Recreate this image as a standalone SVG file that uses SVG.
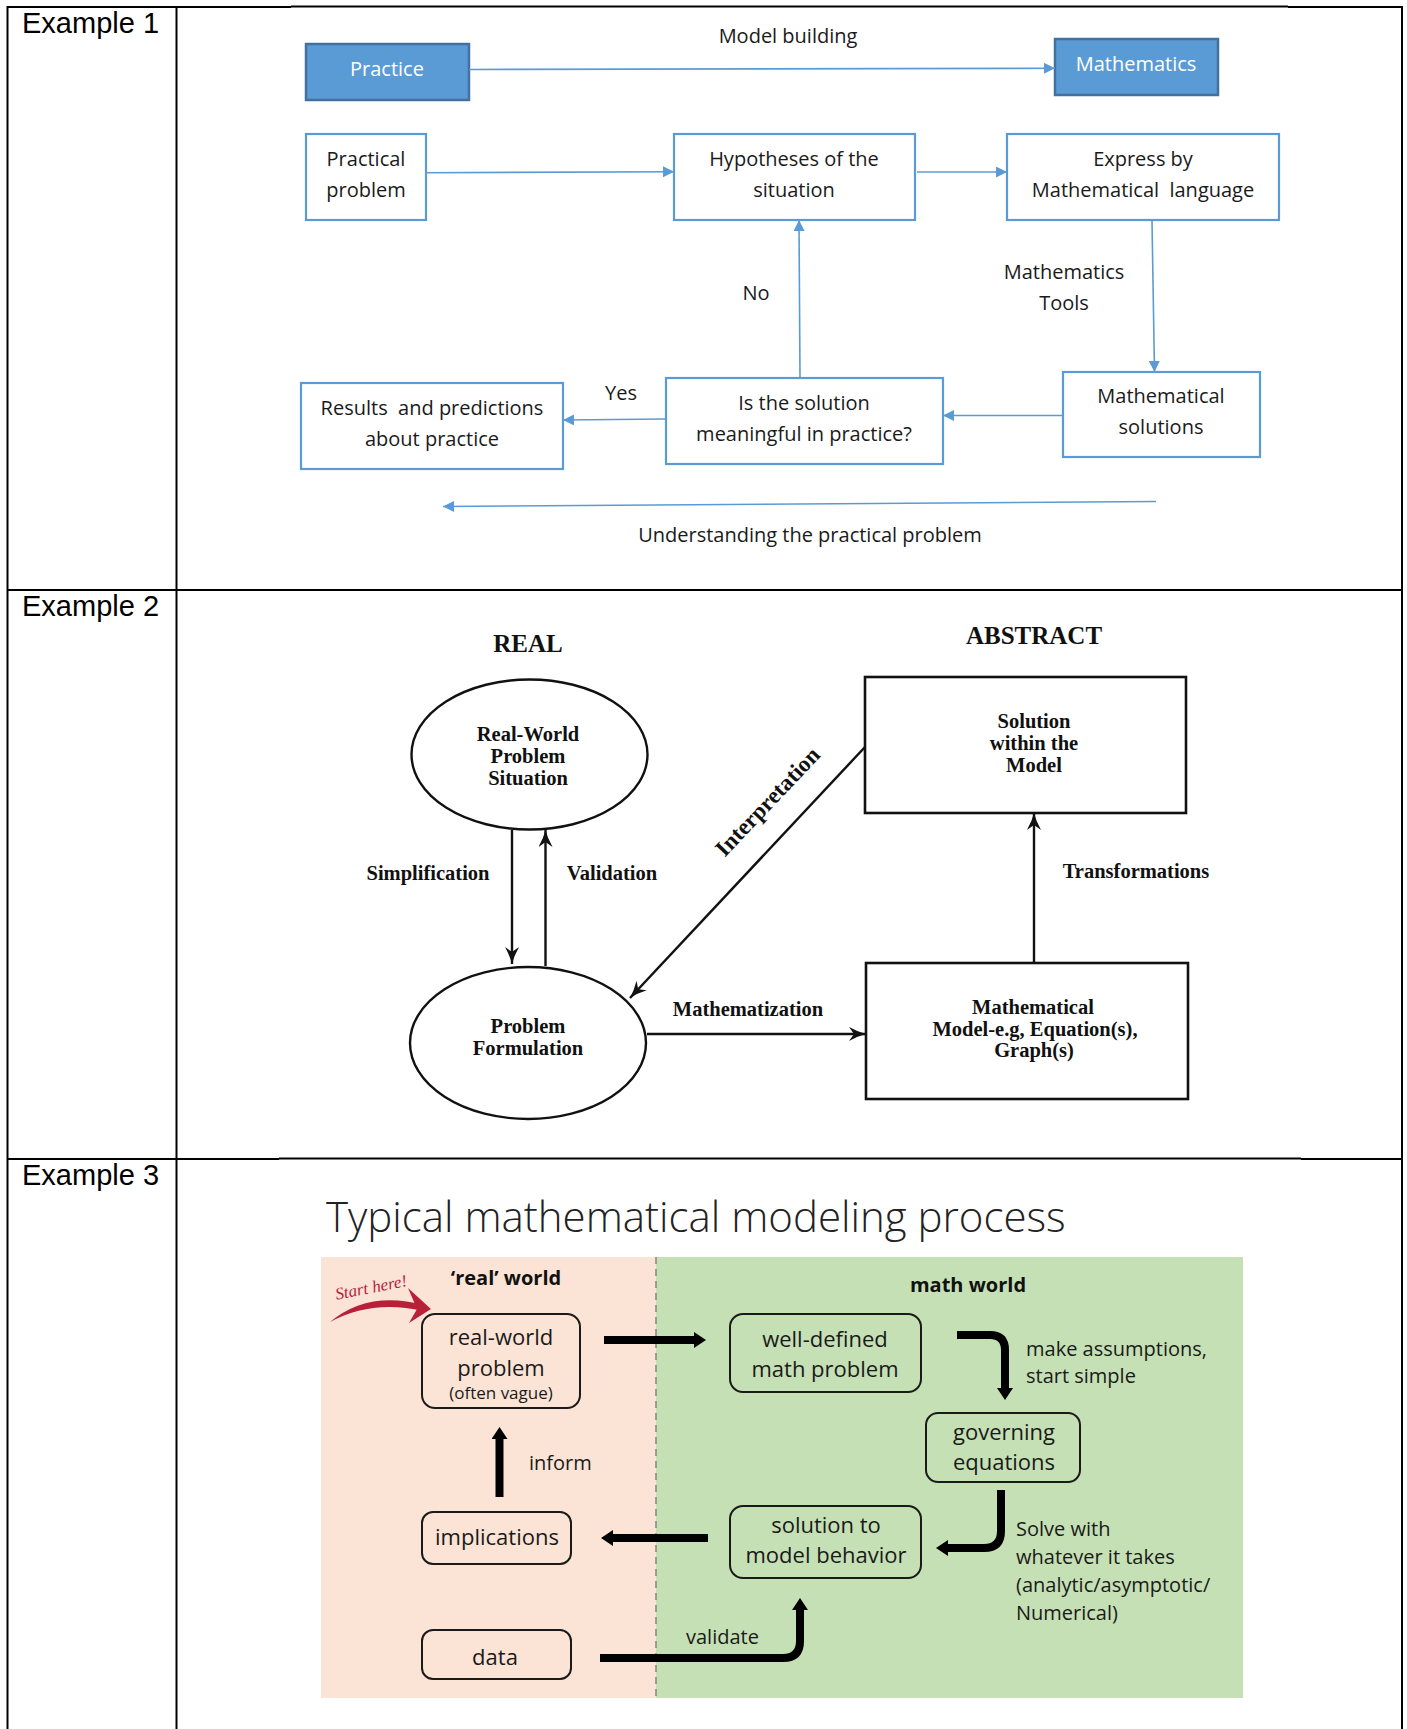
<svg xmlns="http://www.w3.org/2000/svg" width="1407" height="1729" viewBox="0 0 1407 1729">
<defs>
<style>
.tbl{stroke:#000;stroke-width:2;fill:none}
.lbl{font-family:"Liberation Sans",Arial,sans-serif;font-size:29px;fill:#000}
.e1{font-family:"Open Sans","Noto Sans",sans-serif;font-size:20px;fill:#1a1a1a;text-anchor:middle}
.e1w{font-family:"Open Sans","Noto Sans",sans-serif;font-size:20px;fill:#fff;text-anchor:middle}
.b1{fill:#fff;stroke:#5b9bd5;stroke-width:2.2}
.b1f{fill:#5b9bd5;stroke:#41719c;stroke-width:2.5}
.c1{stroke:#5b9bd5;stroke-width:1.6;fill:none;marker-end:url(#ab)}
.e2{font-family:"Liberation Serif","Times New Roman",serif;font-size:20.5px;font-weight:bold;fill:#111;text-anchor:middle}
.big{font-size:25px}
.rot{font-size:23px}
.b2{fill:#fff;stroke:#111;stroke-width:2.6}
.c2{stroke:#111;stroke-width:2.4;fill:none;marker-end:url(#ak)}
.e3{font-family:"Open Sans","Noto Sans",sans-serif;font-size:22px;fill:#1a1a1a;text-anchor:middle}
.sm{font-size:17px}
.e3s{font-family:"Open Sans","Noto Sans",sans-serif;font-size:20px;fill:#1a1a1a}
.e3b{font-family:"Open Sans","Noto Sans",sans-serif;font-size:20px;font-weight:bold;fill:#111;text-anchor:middle}
.b3{fill:none;stroke:#1a1a1a;stroke-width:2}
.c3{stroke:#000;stroke-width:8;fill:none;marker-end:url(#at)}
</style>
<marker id="ab" viewBox="0 0 11 11" markerWidth="11" markerHeight="11" refX="11" refY="5.5" orient="auto" markerUnits="userSpaceOnUse"><path d="M0,0 L11,5.5 L0,11 z" fill="#5b9bd5"/></marker>
<marker id="ak" viewBox="0 0 17 14" markerWidth="17" markerHeight="14" refX="17" refY="7" orient="auto" markerUnits="userSpaceOnUse"><path d="M0,0 Q9,5 17,7 Q9,9 0,14 L5,7 z" fill="#111"/></marker>
<marker id="at" viewBox="0 0 12 16" markerWidth="12" markerHeight="16" refX="1" refY="8" orient="auto" markerUnits="userSpaceOnUse"><path d="M0,0 L12,8 L0,16 z" fill="#000"/></marker>
</defs>
<rect x="0" y="0" width="1407" height="1729" fill="#fff"/>

<g id="table">
<line class="tbl" x1="7" y1="7" x2="291" y2="7" stroke-width="2.4"/>
<line class="tbl" x1="291" y1="6.5" x2="1288" y2="6.5" stroke-width="1.3"/>
<line class="tbl" x1="1288" y1="7" x2="1403" y2="7" stroke-width="2.4"/>
<line class="tbl" x1="7" y1="590" x2="1403" y2="590" stroke-width="2.6"/>
<line class="tbl" x1="7" y1="1159" x2="279" y2="1159" stroke-width="2.4"/>
<line class="tbl" x1="279" y1="1158.5" x2="1301" y2="1158.5" stroke-width="1.3"/>
<line class="tbl" x1="1301" y1="1159" x2="1403" y2="1159" stroke-width="2.4"/>
<line class="tbl" x1="7.5" y1="6" x2="7.5" y2="1729"/>
<line class="tbl" x1="176.5" y1="6" x2="176.5" y2="1729"/>
<line class="tbl" x1="1402" y1="6" x2="1402" y2="1729"/>
<text class="lbl" x="22" y="33">Example 1</text>
<text class="lbl" x="22" y="616">Example 2</text>
<text class="lbl" x="22" y="1185">Example 3</text>
</g>

<!-- Example 1 -->
<g id="ex1-practice"><rect class="b1f" x="306" y="44" width="163" height="56"/><text class="e1w" x="387" y="76">Practice</text></g>
<g id="ex1-mathematics"><rect class="b1f" x="1055" y="39" width="163" height="56"/><text class="e1w" x="1136" y="71">Mathematics</text></g>
<g id="ex1-practical"><rect class="b1" x="306" y="134" width="120" height="86"/><text class="e1" x="366" y="166">Practical</text><text class="e1" x="366" y="197">problem</text></g>
<g id="ex1-hypotheses"><rect class="b1" x="674" y="134" width="241" height="86"/><text class="e1" x="794" y="166">Hypotheses of the</text><text class="e1" x="794" y="197">situation</text></g>
<g id="ex1-express"><rect class="b1" x="1007" y="134" width="272" height="86"/><text class="e1" x="1143" y="166">Express by</text><text class="e1" x="1143" y="197" xml:space="preserve">Mathematical  language</text></g>
<g id="ex1-results"><rect class="b1" x="301" y="383" width="262" height="86"/><text class="e1" x="432" y="415" xml:space="preserve">Results  and predictions</text><text class="e1" x="432" y="446">about practice</text></g>
<g id="ex1-meaningful"><rect class="b1" x="666" y="378" width="277" height="86"/><text class="e1" x="804" y="410">Is the solution</text><text class="e1" x="804" y="441">meaningful in practice?</text></g>
<g id="ex1-solutions"><rect class="b1" x="1063" y="372" width="197" height="85"/><text class="e1" x="1161" y="403">Mathematical</text><text class="e1" x="1161" y="434">solutions</text></g>

<!-- Example 2 -->
<g id="ex2-realworld"><ellipse cx="529.5" cy="754.5" rx="118" ry="75" fill="#fff" stroke="#111" stroke-width="2.4"/><text class="e2" x="528" y="741">Real-World</text><text class="e2" x="528" y="763">Problem</text><text class="e2" x="528" y="785">Situation</text></g>
<g id="ex2-formulation"><ellipse cx="528" cy="1043" rx="118" ry="76" fill="#fff" stroke="#111" stroke-width="2.4"/><text class="e2" x="528" y="1033">Problem</text><text class="e2" x="528" y="1055">Formulation</text></g>
<g id="ex2-solution"><rect class="b2" x="865" y="677" width="321" height="136"/><text class="e2" x="1034" y="728">Solution</text><text class="e2" x="1034" y="750">within the</text><text class="e2" x="1034" y="772">Model</text></g>
<g id="ex2-model"><rect class="b2" x="866" y="963" width="322" height="136"/><text class="e2" x="1033" y="1014">Mathematical</text><text class="e2" x="1035" y="1036">Model-e.g, Equation(s),</text><text class="e2" x="1034" y="1057">Graph(s)</text></g>
<g id="ex2-labels">
<text class="e2 big" x="528" y="652">REAL</text>
<text class="e2 big" x="1034" y="644">ABSTRACT</text>
</g>

<!-- Example 3 -->
<g id="ex3-panels">
<rect x="321" y="1257" width="335" height="441" fill="#fbe4d6"/>
<rect x="656" y="1257" width="587" height="441" fill="#c5e0b4"/>
<line x1="656" y1="1257" x2="656" y2="1698" stroke="#8a8a8a" stroke-width="1.6" stroke-dasharray="7,5"/>
<text x="326" y="1232" font-family="'Open Sans','Noto Sans',sans-serif" font-size="42" font-weight="300" fill="#222">Typical mathematical modeling process</text>
<text class="e3b" x="506" y="1285">‘real’ world</text>
<text class="e3b" x="968" y="1292">math world</text>
<text x="371" y="1293" font-family="'Liberation Serif',serif" font-style="italic" font-size="17" fill="#b8203a" text-anchor="middle" transform="rotate(-11 371 1287)">Start here!</text>
<path d="M330,1322 Q368,1290 424,1305 L423,1311 Q372,1299 330,1322 z" fill="#b8203a"/>
<path d="M408,1288 L431,1309 L409,1323 L417,1309 z" fill="#b8203a"/>
</g>
<g id="ex3-realworld"><rect class="b3" x="422" y="1314" width="158" height="94" rx="13"/><text class="e3" x="501" y="1345">real-world</text><text class="e3" x="501" y="1376">problem</text><text class="e3 sm" x="501" y="1399">(often vague)</text></g>
<g id="ex3-welldefined"><rect class="b3" x="730" y="1314" width="191" height="78" rx="13"/><text class="e3" x="825" y="1347">well-defined</text><text class="e3" x="825" y="1377">math problem</text></g>
<g id="ex3-governing"><rect class="b3" x="926" y="1413" width="154" height="69" rx="12"/><text class="e3" x="1004" y="1440">governing</text><text class="e3" x="1004" y="1470">equations</text></g>
<g id="ex3-solution"><rect class="b3" x="730" y="1506" width="191" height="72" rx="13"/><text class="e3" x="826" y="1533">solution to</text><text class="e3" x="826" y="1563">model behavior</text></g>
<g id="ex3-implications"><rect class="b3" x="422" y="1512" width="149" height="52" rx="11"/><text class="e3" x="497" y="1545">implications</text></g>
<g id="ex3-data"><rect class="b3" x="422" y="1630" width="149" height="49" rx="11"/><text class="e3" x="495" y="1665">data</text></g>

<g id="connectors">
<line class="c1" x1="469" y1="69.5" x2="1055" y2="68.3"/>
<line class="c1" x1="427" y1="172.7" x2="674" y2="171.7"/>
<line class="c1" x1="917" y1="172" x2="1007" y2="172"/>
<line class="c1" x1="1152" y1="221" x2="1154.5" y2="372"/>
<line class="c1" x1="1063" y1="415.5" x2="943" y2="415.5"/>
<line class="c1" x1="666" y1="419" x2="563" y2="420"/>
<line class="c1" x1="800" y1="378" x2="799" y2="220"/>
<line class="c1" x1="1156" y1="501.5" x2="443" y2="506.5"/>
<text class="e1" x="788" y="43">Model building</text>
<text class="e1" x="1064" y="279">Mathematics</text>
<text class="e1" x="1064" y="310">Tools</text>
<text class="e1" x="756" y="300">No</text>
<text class="e1" x="621" y="400">Yes</text>
<text class="e1" x="810" y="542">Understanding the practical problem</text>

<line class="c2" x1="512" y1="830" x2="512" y2="964"/>
<line class="c2" x1="545.5" y1="966" x2="545.5" y2="830"/>
<line class="c2" x1="865" y1="747" x2="630" y2="998"/>
<line class="c2" x1="647" y1="1034" x2="866" y2="1034"/>
<line class="c2" x1="1034" y1="963" x2="1034" y2="813"/>
<text class="e2" x="428" y="880">Simplification</text>
<text class="e2" x="612" y="880">Validation</text>
<text class="e2" x="1136" y="878">Transformations</text>
<text class="e2" x="748" y="1016">Mathematization</text>
<text class="e2 rot" transform="translate(768 802) rotate(-46.5)" x="0" y="7">Interpretation</text>

<line class="c3" x1="604" y1="1340" x2="695" y2="1340" stroke-width="9"/>
<path class="c3" d="M957,1335 H990 Q1005,1335 1005,1350 V1389"/>
<path class="c3" d="M1001,1490 V1531 Q1001,1548 984,1548 H947"/>
<line class="c3" x1="708" y1="1538" x2="612" y2="1538" stroke-width="9"/>
<line class="c3" x1="499.5" y1="1497" x2="499.5" y2="1438"/>
<path class="c3" d="M600,1658 H783 Q800,1658 800,1641 V1609"/>
<text class="e3s" x="1026" y="1356">make assumptions,</text>
<text class="e3s" x="1026" y="1383">start simple</text>
<text class="e3s" x="1016" y="1536">Solve with</text>
<text class="e3s" x="1016" y="1564">whatever it takes</text>
<text class="e3s" x="1016" y="1592">(analytic/asymptotic/</text>
<text class="e3s" x="1016" y="1620">Numerical)</text>
<text class="e3s" x="529" y="1470">inform</text>
<text class="e3s" x="686" y="1644">validate</text>
</g>
</svg>
